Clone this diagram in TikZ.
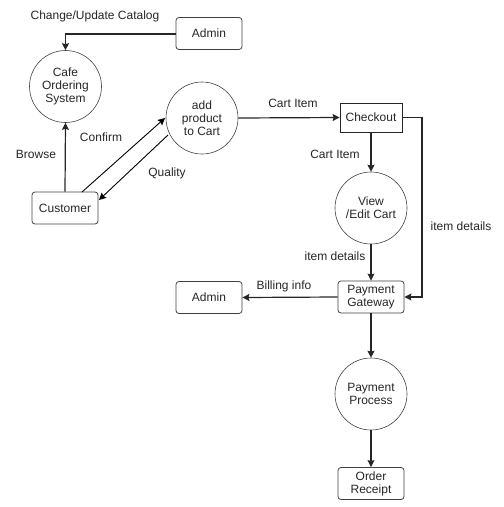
\documentclass[tikz,border=0pt]{standalone}
\usepackage{fontspec}
\setmainfont{Liberation Sans}
\usetikzlibrary{arrows.meta}
\begin{document}
\begin{tikzpicture}[x=1pt,y=-1pt,
  every node/.style={font=\fontsize{12}{13}\selectfont, text=black!85},
  rbox/.style={draw=black!75, line width=0.8pt, rounded corners=3pt, minimum width=66pt, minimum height=32pt, inner sep=1pt, align=center},
  sbox/.style={draw=black!85, line width=0.8pt, minimum width=62pt, minimum height=29pt, inner sep=1pt, align=center},
  proc/.style={draw=black!75, line width=0.6pt, circle, minimum size=72pt, inner sep=0pt, align=center},
  flow/.style={draw=black!85, line width=1.2pt, -{Stealth[length=7pt,width=7pt,inset=1pt]}},
  thin/.style={draw=black, line width=0.9pt, -{Stealth[length=7pt,width=7pt,inset=1pt]}},
  lbl/.style={inner sep=0pt}]
\useasboundingbox (0,0) rectangle (504,507);
\node[rbox] (admin1) at (209,33.5) {Admin};
\node[proc] (cafe) at (65.5,86.5) {Cafe\\Ordering\\System};
\node[proc] (add) at (202,118) {add\\product\\to Cart};
\node[rbox] (cust) at (65,208) {Customer};
\node[sbox] (check) at (371,117.5) {Checkout};
\node[proc] (view) at (371,208) {View\\/Edit Cart};
\node[rbox] (pay) at (371,297) {Payment\\Gateway};
\node[rbox] (admin2) at (209,297.5) {Admin};
\node[proc] (proc) at (371,394) {Payment\\Process};
\node[rbox] (rec) at (371,483.5) {Order\\Receipt};
\coordinate (c1) at (65.5,34);
\coordinate (c2) at (422,117.5);
\coordinate (c3) at (422,297);
\coordinate (cf1) at (82,192);
\coordinate (cf2) at (165,118);
\coordinate (q1) at (168,135);
\coordinate (q2) at (99,200);
\draw[flow] (admin1.west |- c1) -- (c1) -- (cafe.north);
\draw[flow] (cust.north) -- (cafe.south);
\draw[thin] (cf1) -- (cf2);
\draw[thin] (q1) -- (q2);
\draw[flow] (add.east) -- (check.west);
\draw[flow] (check.south) -- (view.north);
\draw[flow] (check.east) -- (c2) -- (c3) -- (pay.east);
\draw[flow] (view.south) -- (pay.north);
\draw[flow] (pay.west) -- (admin2.east);
\draw[flow] (pay.south) -- (proc.north);
\draw[flow] (proc.south) -- (rec.north);
\node[lbl] (t1) at (95,16) {Change/Update Catalog};
\node[lbl] (t2) at (36,154) {Browse};
\node[lbl] (t3) at (101,137) {Confirm};
\node[lbl] (t4) at (167,173) {Quality};
\node[lbl] (t5) at (293,103) {Cart Item};
\node[lbl] (t6) at (335,154) {Cart Item};
\node[lbl] (t7) at (461,226) {item details};
\node[lbl] (t8) at (335,256) {item details};
\node[lbl] (t9) at (284,286) {Billing info};
\end{tikzpicture}
\end{document}
